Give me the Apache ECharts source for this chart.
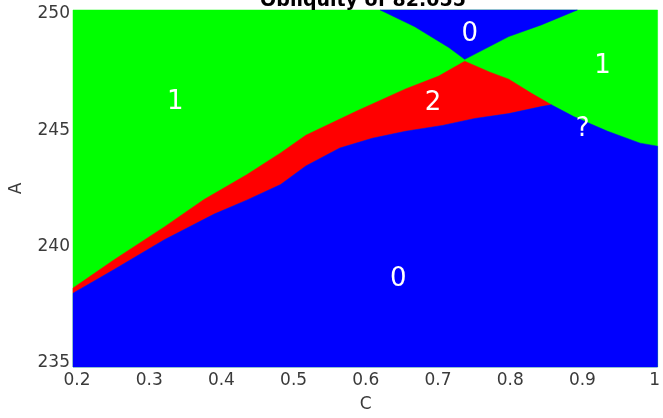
<!DOCTYPE html>
<html>
<head>
<meta charset="utf-8">
<script src="https://cdn.jsdelivr.net/npm/echarts@6/dist/echarts.min.js"></script>
<style>html,body{margin:0;padding:0;background:#fff}#c{width:663px;height:418px}</style>
</head>
<body>
<div id="c"></div>
<script>
// Axis ticks
const xTicks = [0.2, 0.3, 0.4, 0.5, 0.6, 0.7, 0.8, 0.9, 1];
const yTicks = [235, 240, 245, 250];

// Lower boundary: top edge of the lower "0" (blue) region / bottom of "2" (red)
const lowerC = [0.2, 0.252, 0.321, 0.390, 0.435, 0.482, 0.517, 0.564, 0.609, 0.655, 0.706, 0.751, 0.798, 0.843, 0.857];
const lowerA = [238.0, 239.03, 240.3, 241.4, 242.0, 242.67, 243.47, 244.24, 244.66, 244.96, 245.21, 245.51, 245.72, 246.02, 246.1];

// Right boundary: blue "0" / green "1" on the right side
const rightC = [0.857, 0.888, 0.935, 0.980, 1.0];
const rightA = [246.1, 245.59, 244.96, 244.45, 244.32];

// Upper boundary of red "2" region (from left edge, over the peak, down to the meeting point)
const redTopC = [0.2, 0.252, 0.321, 0.376, 0.435, 0.482, 0.517, 0.586, 0.655, 0.701, 0.737, 0.772, 0.798, 0.829, 0.857];
const redTopA = [238.22, 239.45, 240.85, 242.03, 243.09, 244.03, 244.79, 245.81, 246.78, 247.33, 247.97, 247.5, 247.2, 246.6, 246.1];

// Upper blue "0" triangle
const topBlueC = [0.62, 0.668, 0.715, 0.737, 0.798, 0.843, 0.893];
const topBlueA = [250, 249.45, 248.56, 248.05, 249.03, 249.53, 250];

// Region labels
const labelText = ['0', '1', '2', '1', '?', '0'];
const labelC = [0.744, 0.336, 0.693, 0.928, 0.9005, 0.645];
const labelA = [249.15, 246.2, 246.15, 247.75, 245.04, 238.6];

const GREEN = '#00ff00', RED = '#ff0000', BLUE = '#0000ff';
const xMin = 0.2, xMax = 1, yMin = 235, yMax = 250;

function zip(cs, as) { return cs.map((c, i) => [c, as[i]]); }

const regions = [
  { color: GREEN, pts: [[xMin, yMin], [xMax, yMin], [xMax, yMax], [xMin, yMax]] },
  { color: RED, pts: zip(lowerC, lowerA).concat(zip(redTopC, redTopA).reverse()) },
  { color: BLUE, pts: [[xMin, yMin]].concat(zip(lowerC, lowerA), zip(rightC, rightA), [[xMax, yMin]]) },
  { color: BLUE, pts: zip(topBlueC, topBlueA) }
];

const chart = echarts.init(document.getElementById('c'));

function renderRegion(params, api) {
  const r = regions[api.value(2)];
  const pts = r.pts.map(p => {
    const q = api.coord(p);
    // markers overshoot the axis extent slightly
    if (p[0] <= xMin) q[0] -= 4;
    if (p[0] >= xMax) q[0] += 3;
    if (p[1] >= yMax) q[1] -= 4;
    if (p[1] <= yMin) q[1] += 4;
    return q;
  });
  return { type: 'polygon', shape: { points: pts }, style: { fill: r.color, stroke: r.color, lineWidth: 0.5 } };
}

function renderLabel(params, api) {
  const q = api.coord([api.value(0), api.value(1)]);
  return {
    type: 'text', x: q[0], y: q[1],
    style: { text: labelText[params.dataIndex], fill: '#ffffff', font: '26px "DejaVu Sans"', align: 'center', verticalAlign: 'middle' }
  };
}

const option = {
  animation: false,
  title: {
    text: 'Obliquity of 82.055', left: 358, top: -13, textAlign: 'center',
    textStyle: { fontFamily: 'DejaVu Sans', fontWeight: 'bold', fontSize: 19, color: '#000' }
  },
  grid: { left: 72, right: 7, top: 14, bottom: 50, containLabel: false },
  xAxis: {
    type: 'value', min: xMin, max: xMax, interval: 0.1,
    name: 'C', nameLocation: 'middle', nameGap: 33,
    nameTextStyle: { fontFamily: 'DejaVu Sans', fontSize: 17, color: '#3a3a3a' },
    axisLine: { show: false }, axisTick: { show: false }, splitLine: { show: false },
    axisLabel: { fontFamily: 'DejaVu Sans', fontSize: 17, color: '#3a3a3a', margin: 9,
      formatter: v => String(Math.round(v * 10) / 10) }
  },
  yAxis: {
    type: 'value', min: yMin, max: yMax, interval: 5,
    name: 'A', nameLocation: 'middle', nameGap: 52,
    nameTextStyle: { fontFamily: 'DejaVu Sans', fontSize: 17, color: '#3a3a3a' },
    axisLine: { show: false }, axisTick: { show: false }, splitLine: { show: false },
    axisLabel: { fontFamily: 'DejaVu Sans', fontSize: 17, color: '#3a3a3a', margin: 7 }
  },
  series: [
    {
      type: 'custom', renderItem: renderRegion, clip: false, silent: true,
      data: regions.map((r, i) => [r.pts[0][0], r.pts[0][1], i]),
      encode: { x: 0, y: 1 }
    },
    {
      type: 'custom', renderItem: renderLabel, clip: false, silent: true,
      data: labelC.map((c, i) => [c, labelA[i]]),
      encode: { x: 0, y: 1 }, z: 5
    }
  ]
};
chart.setOption(option);
</script>
</body>
</html>
